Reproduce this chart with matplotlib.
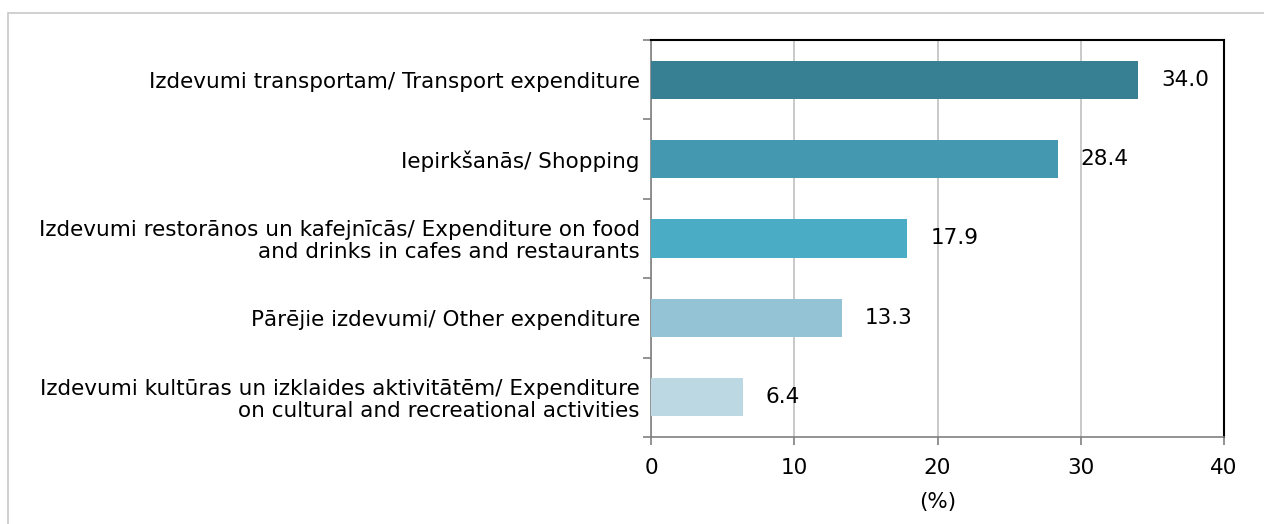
import matplotlib
matplotlib.use("Agg")
import matplotlib.pyplot as plt
from matplotlib.patches import Rectangle

plt.rcParams["font.family"] = "DejaVu Sans"

# data (top to bottom as in the chart)
categories = [
    "Izdevumi transportam/ Transport expenditure",
    "Iepirkšanās/ Shopping",
    "Izdevumi restorānos un kafejnīcās/ Expenditure on food\nand drinks in cafes and restaurants",
    "Pārējie izdevumi/ Other expenditure",
    "Izdevumi kultūras un izklaides aktivitātēm/ Expenditure\non cultural and recreational activities",
]
values = [34.0, 28.4, 17.9, 13.3, 6.4]
colors = ["#378094", "#4499B0", "#4BACC6", "#93C3D4", "#BBD8E3"]
xticks = [0, 10, 20, 30, 40]

FS = 15.5

fig = plt.figure(figsize=(12.64, 5.24), dpi=100)
ax = fig.add_axes([651 / 1264, 1 - 437 / 524, (1224 - 651) / 1264, (437 - 40) / 524])

# outer chart border
fig.patches.append(Rectangle((8 / 1264, -0.1), 1.2, 1.1 - 13 / 524,
                             transform=fig.transFigure, fill=False,
                             edgecolor="#c8c8c8", lw=1.2))

ypos = list(range(len(categories)))
ax.barh(ypos, values, height=0.48, color=colors, zorder=3)
ax.set_ylim(len(categories) - 0.5, -0.5)
ax.set_xlim(0, 40)

for y, v in zip(ypos, values):
    ax.annotate(f"{v:.1f}", (v, y), xytext=(16.5, 0), textcoords="offset points",
                va="center", ha="left", fontsize=FS, color="#000000")

ax.set_xticks(xticks)
ax.set_xticklabels([str(t) for t in xticks], fontsize=FS)
ax.set_yticks([y + 0.5 for y in [-1] + ypos])
ax.set_yticklabels([])
ax.set_yticks(ypos, minor=True)
ax.set_yticklabels(categories, minor=True, fontsize=FS, linespacing=1.1)
ax.tick_params(axis="y", which="minor", length=0, pad=8)
ax.tick_params(axis="y", which="major", length=6, color="#808080", width=1.2)
ax.tick_params(axis="x", length=6, color="#808080", width=1.2, pad=9)
for lbl in ax.get_yticklabels(minor=True):
    lbl.set_horizontalalignment("right")

ax.set_xlabel("(%)", fontsize=FS, labelpad=10)

ax.grid(axis="x", color="#c0c0c0", lw=1.2, zorder=0)
ax.spines["left"].set_color("#808080")
ax.spines["bottom"].set_color("#808080")
ax.spines["left"].set_linewidth(1.2)
ax.spines["bottom"].set_linewidth(1.2)
ax.spines["top"].set_color("#000000")
ax.spines["right"].set_color("#000000")
ax.spines["top"].set_linewidth(1.5)
ax.spines["right"].set_linewidth(1.5)

fig.savefig("out.png", dpi=100)
